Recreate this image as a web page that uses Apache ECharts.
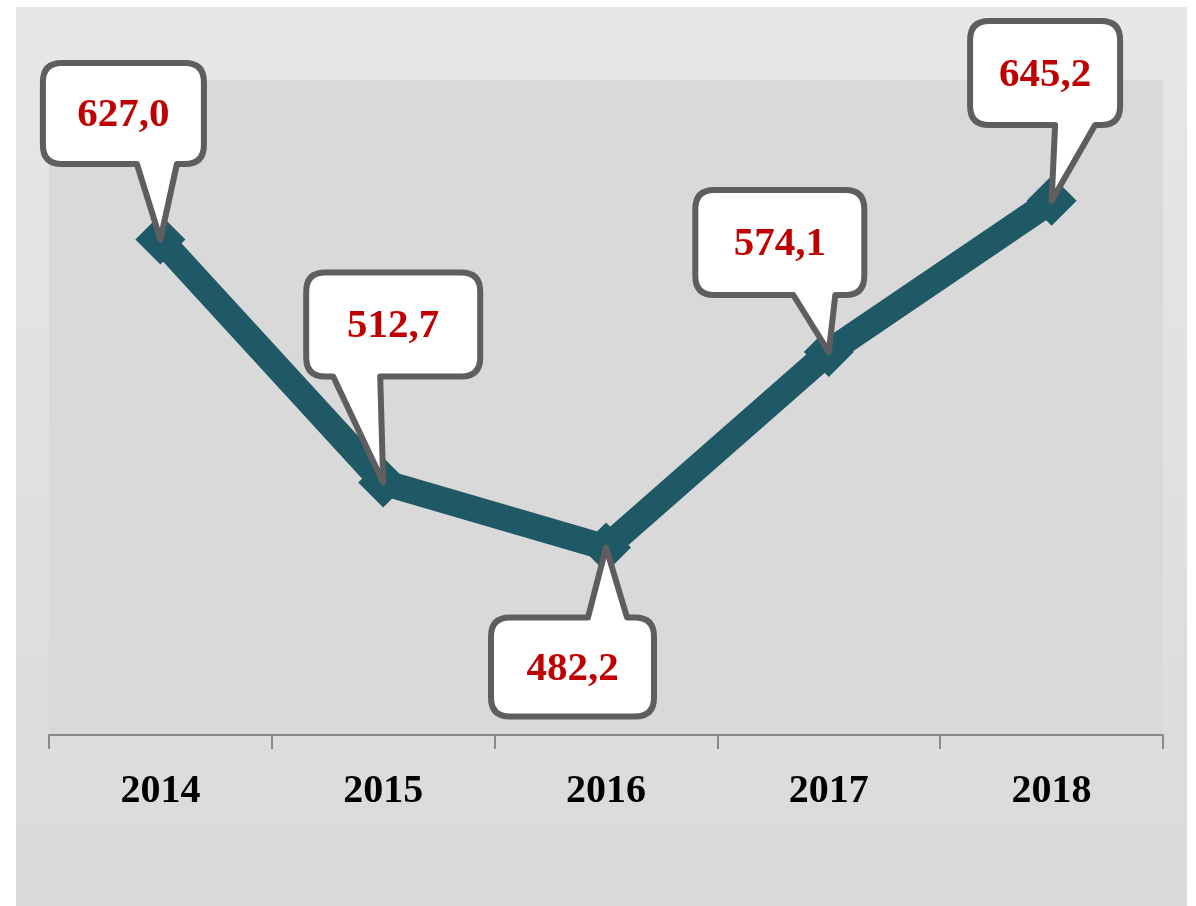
<!DOCTYPE html>
<html>
<head>
<meta charset="utf-8">
<script src="https://cdn.jsdelivr.net/npm/echarts@6/dist/echarts.min.js"></script>
<style>
  html, body { margin: 0; padding: 0; background: #ffffff; }
  #chart { width: 1196px; height: 906px; }
</style>
</head>
<body>
<div id="chart"></div>
<script>
// ---- data ----
const years = ['2014', '2015', '2016', '2017', '2018'];
const values = [627.0, 512.7, 482.2, 574.1, 645.2];

// ---- callout layout (offsets relative to the data point, px) ----
// [left, top, right, bottom, baseX1, baseX2]
const calloutLayout = [
  [-120.5, -179.5, 46.5, -72.5, -23.5, 16.5],
  [-80, -213, 100, -103, -50, -3],
  [-118, 67, 51, 172, -18, 21],
  [-136.5, -165, 38.5, -54, -35.5, 6.5],
  [-84.5, -182.7, 71.5, -72.7, 3.5, 43.5]
];

function fmt(v) { return v.toFixed(1).replace('.', ','); }

function calloutPath(px, py, lay) {
  const bw = 6, h = bw / 2, r = 19;
  const L = px + lay[0] + h, T = py + lay[1] + h, R = px + lay[2] - h, B = py + lay[3] - h;
  const b1 = px + lay[4], b2 = px + lay[5];
  const below = lay[1] > 0; // box below the point, pointer on top
  let d = '';
  d += 'M' + (L + r) + ' ' + T;
  if (below) {
    d += ' L' + b1 + ' ' + T + ' L' + px + ' ' + py + ' L' + b2 + ' ' + T;
  }
  d += ' L' + (R - r) + ' ' + T;
  d += ' Q' + R + ' ' + T + ' ' + R + ' ' + (T + r);
  d += ' L' + R + ' ' + (B - r);
  d += ' Q' + R + ' ' + B + ' ' + (R - r) + ' ' + B;
  if (!below) {
    d += ' L' + b2 + ' ' + B + ' L' + px + ' ' + py + ' L' + b1 + ' ' + B;
  }
  d += ' L' + (L + r) + ' ' + B;
  d += ' Q' + L + ' ' + B + ' ' + L + ' ' + (B - r);
  d += ' L' + L + ' ' + (T + r);
  d += ' Q' + L + ' ' + T + ' ' + (L + r) + ' ' + T;
  d += ' Z';
  return { d: d, cx: (L + R) / 2, cy: (T + B) / 2 };
}

const chart = echarts.init(document.getElementById('chart'), null, { renderer: 'canvas' });

const option = {
  animation: false,
  backgroundColor: '#ffffff',
  graphic: [{
    type: 'rect',
    z: -10,
    silent: true,
    shape: { x: 16, y: 7, width: 1171, height: 899 },
    style: {
      fill: {
        type: 'linear', x: 0, y: 0, x2: 0, y2: 1,
        colorStops: [
          { offset: 0, color: '#e7e7e7' },
          { offset: 1, color: '#dadada' }
        ]
      }
    }
  }],
  grid: {
    left: 49, right: 33, top: 80, bottom: 171,
    show: true, backgroundColor: '#d9d9d9', borderWidth: 0
  },
  xAxis: {
    type: 'category',
    data: years,
    boundaryGap: true,
    axisLine: { show: true, lineStyle: { color: '#8a8a8a', width: 2 } },
    axisTick: { show: true, inside: false, length: 14, lineStyle: { color: '#8a8a8a', width: 2 } },
    axisLabel: {
      margin: 37,
      color: '#000000',
      fontFamily: '"Liberation Serif", "Times New Roman", serif',
      fontWeight: 'bold',
      fontSize: 40
    },
    splitLine: { show: false }
  },
  yAxis: {
    type: 'value',
    min: 394,
    max: 702,
    show: false,
    splitLine: { show: false }
  },
  series: [
    {
      type: 'line',
      data: values,
      z: 2,
      lineStyle: { color: '#205966', width: 26 },
      itemStyle: { color: '#205966' },
      symbol: 'diamond',
      symbolSize: 50,
      label: { show: false }
    },
    {
      type: 'custom',
      z: 5,
      data: years.map((y, i) => [i, values[i]]),
      renderItem: function (params, api) {
        const i = params.dataIndex;
        const pt = api.coord([api.value(0), api.value(1)]);
        const c = calloutPath(pt[0], pt[1], calloutLayout[i]);
        return {
          type: 'group',
          children: [
            {
              type: 'path',
              shape: { pathData: c.d },
              style: { fill: '#ffffff', stroke: '#5e5e5e', lineWidth: 6, lineJoin: 'round' }
            },
            {
              type: 'text',
              style: {
                text: fmt(values[i]),
                x: c.cx,
                y: c.cy + 2,
                align: 'center',
                verticalAlign: 'middle',
                fill: '#c00000',
                fontFamily: '"Liberation Serif", "Times New Roman", serif',
                fontWeight: 'bold',
                fontSize: 41
              }
            }
          ]
        };
      }
    }
  ]
};

chart.setOption(option);
</script>
</body>
</html>
